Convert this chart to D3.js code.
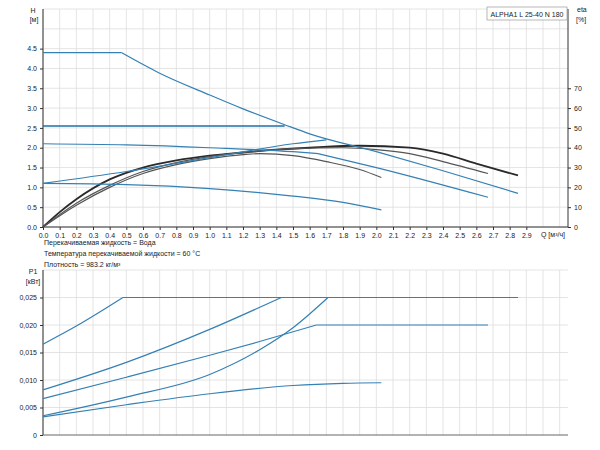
<!DOCTYPE html><html><head><meta charset="utf-8">
<script src="https://cdn.jsdelivr.net/npm/d3@7"></script>
<style>body{margin:0;background:#fff}text{font-family:Arial,"Liberation Sans",sans-serif}</style></head><body>
<svg id="c" width="600" height="450"></svg>
<script>
const qTicks=d3.range(0,30).map(i=>i/10);
const hTicks=[0,0.5,1,1.5,2,2.5,3,3.5,4,4.5];
const etaTicks=[0,10,20,30,40,50,60,70];
const pTicks=[0,0.005,0.010,0.015,0.020,0.025];
// each curve is a list of smooth pieces (corners split pieces)
const headCurves=[
 [[[0,4.4],[0.47,4.4]],[[0.47,4.4],[0.7,3.88],[1.0,3.33],[1.2,2.98],[1.45,2.58],[1.6,2.35],[2.0,1.9],[2.4,1.42],[2.85,0.85]]],
 [[[0,2.55],[1.45,2.55]]],
 [[[0,2.1],[0.5,2.07],[1.0,2.0],[1.5,1.9],[1.65,1.85]],[[1.65,1.85],[2.0,1.5],[2.67,0.75]]],
 [[[0,1.1],[0.5,1.4],[1.0,1.75],[1.5,2.1],[1.7,2.2]]],
 [[[0,1.1],[0.5,1.07],[1.0,0.97],[1.5,0.78],[1.8,0.62],[2.03,0.43]]]
];
const etaCurves=[
 [[0,0],[0.1,7.5],[0.2,14],[0.4,24],[0.6,30],[0.8,33.6],[1.0,36],[1.2,37.6],[1.4,39],[1.6,40],[1.9,41],[2.2,40],[2.4,37],[2.6,32],[2.85,26]],
 [[0,0],[0.2,12],[0.4,21],[0.6,28],[0.8,32.5],[1.0,35.5],[1.2,37.5],[1.5,39.5],[1.8,40],[2.0,39],[2.2,37],[2.4,33],[2.67,27]],
 [[0,0],[0.2,11],[0.4,20],[0.6,27],[0.8,31.5],[1.0,34.5],[1.2,36.5],[1.3,37],[1.5,36],[1.7,33],[1.9,29],[2.03,25]]
];
const powerCurves=[
 [[[0,0.0165],[0.2,0.0198],[0.48,0.025]],[[0.48,0.025],[2.85,0.025]]],
 [[[0,0.0082],[0.5,0.0132],[1.0,0.0192],[1.43,0.025]]],
 [[[0,0.0035],[0.5,0.0069],[1.0,0.0110],[1.3,0.0155],[1.5,0.0195],[1.71,0.025]]],
 [[[0,0.0066],[0.5,0.0105],[1.0,0.0145],[1.3,0.017],[1.64,0.020]],[[1.64,0.020],[2.67,0.020]]],
 [[[0,0.0033],[0.5,0.0055],[1.0,0.0075],[1.5,0.009],[1.8,0.0094],[2.03,0.0095]]]
];
const notes=["Перекачиваемая жидкость = Вода","Температура перекачиваемой жидкости = 60 °C","Плотность = 983.2 кг/м³"];
const svg=d3.select("#c");
const x=d3.scaleLinear().domain([0,3.15]).range([43,568]);
const y=d3.scaleLinear().domain([0,5.5]).range([227,9]);
const ye=d3.scaleLinear().domain([0,110]).range([227,9]);
const yp=d3.scaleLinear().domain([0,0.030]).range([435,270]);
const grid="#ddd";
function vgrid(y0,y1){d3.range(0,32).forEach(i=>{const v=i/10;svg.append("line").attr("x1",x(v)).attr("x2",x(v)).attr("y1",y0).attr("y2",y1).attr("stroke",grid).attr("stroke-width",0.8);});}
vgrid(9,227);vgrid(270,435);
d3.range(0,5.51,0.5).forEach(v=>svg.append("line").attr("x1",43).attr("x2",568).attr("y1",y(v)).attr("y2",y(v)).attr("stroke",grid).attr("stroke-width",0.8));
[0.005,0.01,0.015,0.02,0.025,0.03].forEach(v=>svg.append("line").attr("x1",43).attr("x2",568).attr("y1",yp(v)).attr("y2",yp(v)).attr("stroke",grid).attr("stroke-width",0.8));
const fs=7;
const ax=svg.append("g").attr("transform","translate(0,227)").call(d3.axisBottom(x).tickValues(qTicks).tickSize(3).tickFormat(d3.format(".1f")));
ax.select(".domain").attr("d","M43,0H568");
svg.append("g").attr("transform","translate(43,0)").call(d3.axisLeft(y).tickValues(hTicks).tickSize(3).tickFormat(d3.format(".1f"))).select(".domain").attr("d","M0,9V227");
svg.append("g").attr("transform","translate(568,0)").call(d3.axisRight(ye).tickValues(etaTicks).tickSize(3)).select(".domain").attr("d","M0,9V227");
svg.append("g").attr("transform","translate(43,0)").call(d3.axisLeft(yp).tickValues(pTicks).tickSize(3).tickFormat(d=>d3.format(".3f")(d).replace(".",",").replace(/^0,000$/,"0"))).select(".domain").attr("d","M0,270V435");
svg.append("line").attr("x1",43).attr("x2",568).attr("y1",435).attr("y2",435).attr("stroke","#666");
svg.selectAll(".tick text").attr("font-size",fs).attr("fill","#222");
svg.selectAll(".domain").attr("stroke","#333");
svg.selectAll(".tick line").attr("stroke","#333");
const t=(tx,ty,s,a)=>svg.append("text").attr("x",tx).attr("y",ty).attr("font-size",fs).attr("fill","#222").attr("text-anchor",a||"start").text(s);
t(33,13,"H","middle");t(34,22,"[м]","middle");
t(577,12,"eta");t(576,22,"[%]");
t(553,237,"Q [м³/ч]","middle");
t(33,274,"P1","middle");t(33,284,"[кВт]","middle");
notes.forEach((n,i)=>t(44,245+i*11,n));
svg.append("rect").attr("x",487).attr("y",7).attr("width",80).attr("height",13).attr("fill","#fff").attr("stroke","#999").attr("stroke-width",0.7);
t(527,17,"ALPHA1 L 25-40 N 180","middle");
const lh=d3.line().x(d=>x(d[0])).y(d=>y(d[1])).curve(d3.curveMonotoneX);
const le=d3.line().x(d=>x(d[0])).y(d=>ye(d[1])).curve(d3.curveMonotoneX);
const lp=d3.line().x(d=>x(d[0])).y(d=>yp(d[1])).curve(d3.curveMonotoneX);
etaCurves.forEach((c,i)=>svg.append("path").attr("d",le(c)).attr("fill","none").attr("stroke",i==0?"#2a2a2a":"#555").attr("stroke-width",i==0?1.8:1.2));
headCurves.forEach((c,i)=>c.forEach(p=>svg.append("path").attr("d",lh(p)).attr("fill","none").attr("stroke",i==1?"#1f6fa8":"#3580b4").attr("stroke-width",i==1?1.6:1.2)));
powerCurves.forEach(c=>c.forEach(p=>svg.append("path").attr("d",lp(p)).attr("fill","none").attr("stroke","#3580b4").attr("stroke-width",1.2)));
</script></body></html>
